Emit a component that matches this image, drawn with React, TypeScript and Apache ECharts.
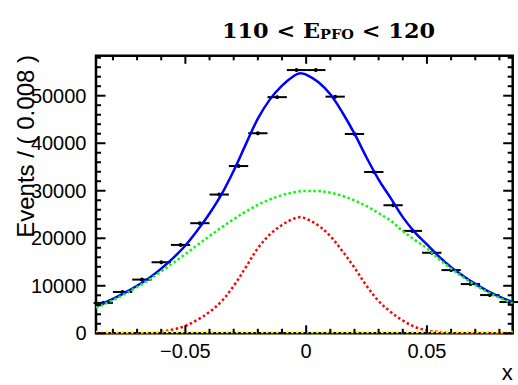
import { useEffect, useRef } from "react";
import * as echarts from "echarts";

// Data histogram (bin width 0.008)
const binCenters = [-0.084, -0.076, -0.068, -0.06, -0.052, -0.044, -0.036, -0.028, -0.02, -0.012, -0.004, 0.004, 0.012, 0.02, 0.028, 0.036, 0.044, 0.052, 0.06, 0.068, 0.076, 0.084];
const events = [6400, 8700, 11300, 14950, 18600, 23170, 29200, 35200, 42100, 49700, 55400, 55400, 49800, 41950, 33950, 26950, 21550, 16950, 13300, 10360, 8050, 6580];
const binHalfWidth = 0.004;

// Fit curves
const curveX = [-0.087, -0.08, -0.075, -0.07, -0.065, -0.06, -0.055, -0.05, -0.045, -0.04, -0.035, -0.03, -0.025, -0.02, -0.015, -0.01, -0.005, -0.0025, 0, 0.005, 0.01, 0.015, 0.02, 0.025, 0.03, 0.035, 0.04, 0.045, 0.05, 0.055, 0.06, 0.065, 0.07, 0.075, 0.08, 0.0855];
const totalPdf = [5625, 7220, 8540, 10000, 11630, 13610, 15870, 18480, 21680, 25210, 29290, 34220, 39760, 45160, 49230, 52130, 54200, 54750, 54450, 52890, 50290, 46470, 42010, 37000, 32360, 28440, 24450, 21250, 18700, 16150, 13930, 12075, 10405, 8950, 7700, 6550];
const broadPdf = [5375, 6970, 8290, 9740, 11320, 13030, 14820, 16680, 18580, 20460, 22290, 24020, 25610, 27010, 28180, 29080, 29680, 29870, 29970, 29940, 29590, 28920, 27960, 26750, 25310, 23690, 21500, 19650, 17850, 15600, 13600, 11800, 10150, 8700, 7450, 6300];
const narrowPdf = [0, 0, 0, 10, 60, 330, 800, 1550, 2850, 4500, 6750, 9950, 13900, 17900, 20800, 22800, 24150, 24430, 24100, 22700, 20450, 17300, 13800, 10000, 6800, 4500, 2700, 1350, 600, 300, 80, 25, 5, 0, 0, 0];
const flatX = [-0.087, 0.0855];
const flatPdf = [250, 250];

// Axes
const xMin = -0.087;
const xMax = 0.0855;
const yMin = 0;
const yMax = 58400;
const xMajorTicks = [-0.05, 0, 0.05];
const xMajorLabels = ["\u22120.05", "0", "0.05"];
const xMinorTicks = [-0.08, -0.07, -0.06, -0.04, -0.03, -0.02, -0.01, 0.01, 0.02, 0.03, 0.04, 0.06, 0.07, 0.08];
const yMajorTicks = [0, 10000, 20000, 30000, 40000, 50000];
const yMajorLabels = ["0", "10000", "20000", "30000", "40000", "50000"];
const yMinorTicks = [2000, 4000, 6000, 8000, 12000, 14000, 16000, 18000, 22000, 24000, 26000, 28000, 32000, 34000, 36000, 38000, 42000, 44000, 46000, 48000, 52000, 54000, 56000, 58000];

const SANS = '"Liberation Sans", Arial, Helvetica, sans-serif';
const SERIF = '"DejaVu Serif", serif';

function seg(x1: number, y1: number, x2: number, y2: number, w: number) {
  return { type: "line", shape: { x1, y1, x2, y2 }, style: { stroke: "#000", lineWidth: w } };
}

function tickSeries(values: number[], axis: "x" | "y", len: number, labels?: string[]) {
  return {
    type: "custom",
    silent: true,
    z: 20,
    clip: false,
    data: values.map((v) => (axis === "x" ? [v, yMin] : [xMin, v])),
    encode: { x: 0, y: 1 },
    renderItem: (params: any, api: any) => {
      const cs = params.coordSys;
      const p = api.coord([api.value(0), api.value(1)]);
      const children: any[] = [];
      if (axis === "x") {
        const bottom = cs.y + cs.height;
        const top = cs.y;
        children.push(seg(p[0], bottom, p[0], bottom - len, 2));
        children.push(seg(p[0], top, p[0], top + len, 2));
        if (labels) {
          children.push({
            type: "text",
            x: p[0],
            y: bottom + 8,
            style: {
              text: labels[params.dataIndex],
              fill: "#000",
              font: `20px ${SANS}`,
              align: "center",
              textAlign: "center",
              verticalAlign: "top",
              textVerticalAlign: "top",
            },
          });
        }
      } else {
        const left = cs.x;
        const right = cs.x + cs.width;
        children.push(seg(left, p[1], left + len, p[1], 2));
        children.push(seg(right, p[1], right - len, p[1], 2));
        if (labels) {
          children.push({
            type: "text",
            x: left - 9.5,
            y: p[1],
            style: {
              text: labels[params.dataIndex],
              fill: "#000",
              font: `20px ${SANS}`,
              align: "right",
              textAlign: "right",
              verticalAlign: "middle",
              textVerticalAlign: "middle",
            },
          });
        }
      }
      return { type: "group", children };
    },
  };
}

function curve(xs: number[], ys: number[], color: string, dotted: boolean, z: number) {
  return {
    type: "line",
    data: xs.map((x, i) => [x, ys[i]]),
    showSymbol: false,
    symbol: "none",
    smooth: 0.35,
    silent: true,
    z,
    lineStyle: {
      color,
      width: 2.5,
      type: dotted ? [2.5, 2.5] : "solid",
      cap: "butt",
    },
  };
}

export default function App() {
  const ref = useRef<HTMLDivElement>(null);
  useEffect(() => {
    const chart = echarts.init(ref.current!, null, { renderer: "svg" });
    const option: any = {
      animation: false,
      backgroundColor: "#fff",
      grid: {
        show: true,
        left: 96,
        right: 5.3,
        top: 55.8,
        bottom: 51.7,
        borderColor: "#000",
        borderWidth: 2.5,
        backgroundColor: "transparent",
      },
      xAxis: {
        type: "value",
        min: xMin,
        max: xMax,
        axisLine: { show: false },
        axisTick: { show: false },
        axisLabel: { show: false },
        splitLine: { show: false },
      },
      yAxis: {
        type: "value",
        min: yMin,
        max: yMax,
        axisLine: { show: false },
        axisTick: { show: false },
        axisLabel: { show: false },
        splitLine: { show: false },
      },
      graphic: [
        {
          type: "text",
          x: 328.5,
          y: 28,
          scaleX: 1.12,
          style: {
            text: "{a|110 < E}{b|PFO}{a| < 120}",
            align: "center",
            textAlign: "center",
            verticalAlign: "middle",
            textVerticalAlign: "middle",
            fill: "#000",
            rich: {
              a: { fontFamily: SERIF, fontWeight: "bold", fontSize: 20, lineHeight: 26, verticalAlign: "bottom", fill: "#000" },
              b: { fontFamily: SERIF, fontWeight: "bold", fontSize: 13, lineHeight: 20, verticalAlign: "bottom", fill: "#000" },
            },
          },
        },
        {
          type: "text",
          x: 25,
          y: 55,
          rotation: Math.PI / 2,
          style: {
            text: "Events / ( 0.008 )",
            font: `24px ${SANS}`,
            fill: "#000",
            align: "right",
            textAlign: "right",
            verticalAlign: "middle",
            textVerticalAlign: "middle",
          },
        },
        {
          type: "text",
          x: 512.7,
          y: 383,
          style: {
            text: "x",
            font: `22px ${SANS}`,
            fill: "#000",
            align: "right",
            textAlign: "right",
            verticalAlign: "bottom",
            textVerticalAlign: "bottom",
          },
        },
      ],
      series: [
        {
          type: "custom",
          silent: true,
          z: 3,
          data: binCenters.map((x, i) => [x, events[i]]),
          encode: { x: 0, y: 1 },
          renderItem: (params: any, api: any) => {
            const x = api.value(0);
            const y = api.value(1);
            const l = api.coord([x - binHalfWidth, y]);
            const r = api.coord([x + binHalfWidth, y]);
            const c = api.coord([x, y]);
            return {
              type: "group",
              children: [
                seg(l[0], l[1], r[0], r[1], 2),
                { type: "circle", shape: { cx: c[0], cy: c[1], r: 2 }, style: { fill: "#000" } },
              ],
            };
          },
        },
        curve(curveX, totalPdf, "#0000ff", false, 4),
        curve(curveX, broadPdf, "#00ff00", true, 5),
        curve(curveX, narrowPdf, "#ff0000", true, 5),
        curve(flatX, flatPdf, "#ffff00", true, 5),
        tickSeries(xMajorTicks, "x", 8, xMajorLabels),
        tickSeries(xMinorTicks, "x", 4.5),
        tickSeries(yMajorTicks, "y", 9.5, yMajorLabels),
        tickSeries(yMinorTicks, "y", 5),
      ],
    };
    chart.setOption(option);
    return () => chart.dispose();
  }, []);
  return (
    <div
      ref={ref}
      style={{ position: "fixed", left: 0, top: 0, width: 518, height: 385, background: "#fff" }}
    />
  );
}
